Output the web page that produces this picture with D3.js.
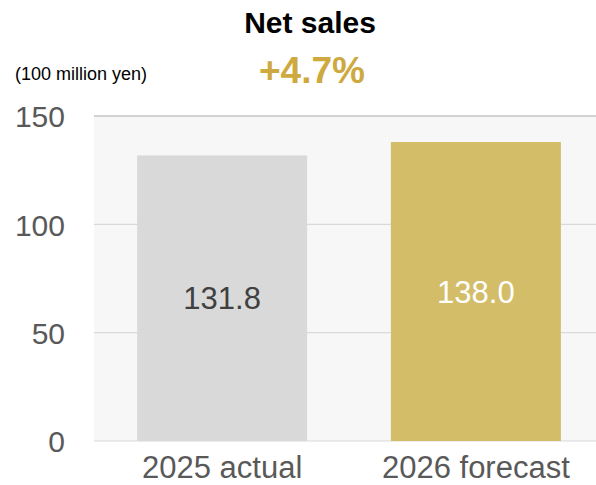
<!DOCTYPE html>
<html>
<head>
<meta charset="utf-8">
<script src="https://cdn.jsdelivr.net/npm/d3@7/dist/d3.min.js"></script>
<style>
  html, body { margin: 0; padding: 0; background: #ffffff; }
  svg { display: block; font-family: "Liberation Sans", Arial, sans-serif; }
</style>
</head>
<body>
<svg id="chart" width="596" height="485"></svg>
<script>
// Net sales, 100 million yen
const categories = ["2025 actual", "2026 forecast"];
const values = [131.8, 138.0];
const barColors = ["#d9d9d9", "#d3bd68"];
const labelColors = ["#404040", "#ffffff"];
const yTicks = [0, 50, 100, 150];
const growthLabel = "+4.7%";

const svg = d3.select("#chart");
const plot = { left: 94, right: 604, top: 116, bottom: 441 };

const x = d3.scaleBand()
  .domain(categories)
  .range([plot.left, plot.right])
  .paddingInner(0.33)
  .paddingOuter(0.17);

const y = d3.scaleLinear()
  .domain([0, 150])
  .range([plot.bottom, plot.top]);

// plot background
svg.append("rect")
  .attr("x", plot.left).attr("y", plot.top)
  .attr("width", plot.right - plot.left).attr("height", plot.bottom - plot.top)
  .attr("fill", "#f7f7f7");

// horizontal gridlines
svg.append("g")
  .selectAll("line")
  .data(yTicks)
  .join("line")
  .attr("x1", plot.left).attr("x2", plot.right)
  .attr("y1", d => y(d)).attr("y2", d => y(d))
  .attr("stroke", d => d === 150 ? "#c4c4c4" : "#d9d9d9")
  .attr("stroke-width", d => d === 150 ? 1.6 : 1.2);

// bars
svg.append("g")
  .selectAll("rect")
  .data(values)
  .join("rect")
  .attr("x", (d, i) => x(categories[i]))
  .attr("y", d => y(d))
  .attr("width", x.bandwidth())
  .attr("height", d => y(0) - y(d))
  .attr("fill", (d, i) => barColors[i]);

// value labels inside bars
svg.append("g")
  .selectAll("text")
  .data(values)
  .join("text")
  .attr("x", (d, i) => x(categories[i]) + x.bandwidth() / 2)
  .attr("y", d => (y(d) + y(0)) / 2)
  .attr("dy", "0.36em")
  .attr("text-anchor", "middle")
  .attr("font-size", 31)
  .attr("fill", (d, i) => labelColors[i])
  .text(d => d.toFixed(1));

// y axis
const yAxis = d3.axisLeft(y).tickValues(yTicks).tickSize(0).tickPadding(29);
const gy = svg.append("g").attr("transform", `translate(${plot.left},0)`).call(yAxis);
gy.select(".domain").remove();
gy.selectAll("text")
  .attr("font-size", 30)
  .attr("font-family", "Liberation Sans, Arial, sans-serif")
  .attr("fill", "#595959")
  .attr("dy", "0.36em");

// x axis
const xAxis = d3.axisBottom(x).tickSize(0).tickPadding(15);
const gx = svg.append("g").attr("transform", `translate(0,${plot.bottom})`).call(xAxis);
gx.select(".domain").remove();
gx.selectAll("text")
  .attr("font-size", 31)
  .attr("font-family", "Liberation Sans, Arial, sans-serif")
  .attr("fill", "#595959");

// titles
svg.append("text")
  .attr("x", 310).attr("y", 33)
  .attr("text-anchor", "middle")
  .attr("font-size", 30).attr("font-weight", "bold")
  .attr("fill", "#000000")
  .text("Net sales");

svg.append("text")
  .attr("x", 312).attr("y", 83)
  .attr("text-anchor", "middle")
  .attr("font-size", 37).attr("font-weight", "bold")
  .attr("fill", "#cda940")
  .text(growthLabel);

svg.append("text")
  .attr("x", 15).attr("y", 80)
  .attr("font-size", 18)
  .attr("fill", "#000000")
  .text("(100 million yen)");
</script>
</body>
</html>
